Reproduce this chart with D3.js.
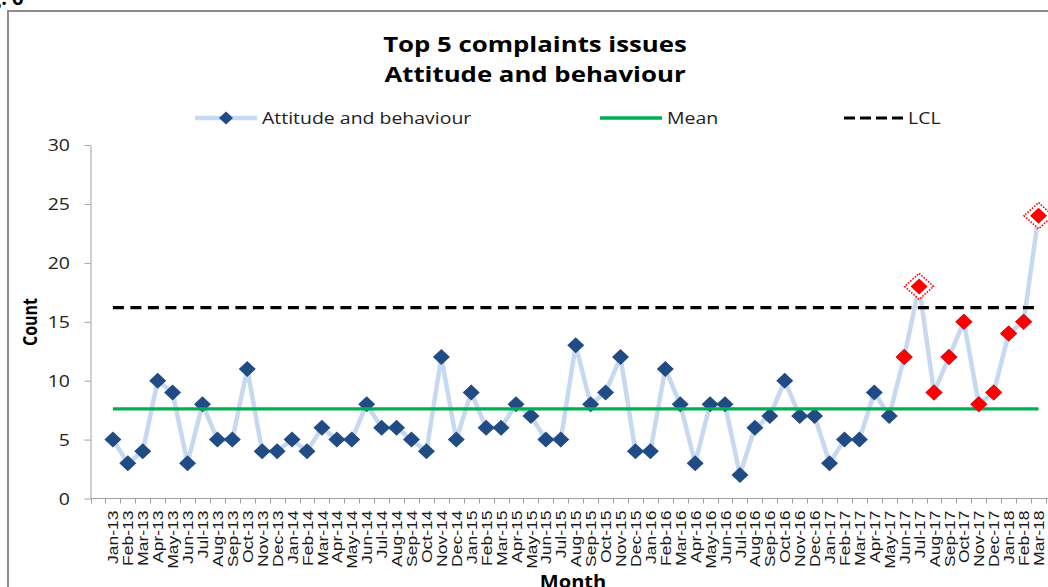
<!DOCTYPE html>
<html>
<head>
<meta charset="utf-8">
<script src="https://cdn.jsdelivr.net/npm/d3@7"></script>
<style>
  html, body { margin: 0; padding: 0; background: #fff; }
  svg { display: block; }
</style>
</head>
<body>
<svg id="chart" width="1048" height="587"></svg>
<script>
// Monthly complaint counts, Jan 2013 – Mar 2018
const months = [
  "Jan-13","Feb-13","Mar-13","Apr-13","May-13","Jun-13","Jul-13","Aug-13","Sep-13","Oct-13","Nov-13","Dec-13",
  "Jan-14","Feb-14","Mar-14","Apr-14","May-14","Jun-14","Jul-14","Aug-14","Sep-14","Oct-14","Nov-14","Dec-14",
  "Jan-15","Feb-15","Mar-15","Apr-15","May-15","Jun-15","Jul-15","Aug-15","Sep-15","Oct-15","Nov-15","Dec-15",
  "Jan-16","Feb-16","Mar-16","Apr-16","May-16","Jun-16","Jul-16","Aug-16","Sep-16","Oct-16","Nov-16","Dec-16",
  "Jan-17","Feb-17","Mar-17","Apr-17","May-17","Jun-17","Jul-17","Aug-17","Sep-17","Oct-17","Nov-17","Dec-17",
  "Jan-18","Feb-18","Mar-18"
];
const complaints = [
  5, 3, 4, 10, 9, 3, 8, 5, 5, 11, 4, 4,
  5, 4, 6, 5, 5, 8, 6, 6, 5, 4, 12, 5,
  9, 6, 6, 8, 7, 5, 5, 13, 8, 9, 12, 4,
  4, 11, 8, 3, 8, 8, 2, 6, 7, 10, 7, 7,
  3, 5, 5, 9, 7, 12, 18, 9, 12, 15, 8, 9,
  14, 15, 24
];
// Months flagged as a run of special-cause variation
const flaggedMonths = ["Jun-17","Jul-17","Aug-17","Sep-17","Oct-17","Nov-17","Dec-17","Jan-18","Feb-18","Mar-18"];
const meanValue = 7.6;
const lclValue = 16.2;
const yTicks = [0, 5, 10, 15, 20, 25, 30];

const seriesName = "Attitude and behaviour";
const titleLines = ["Top 5 complaints issues", "Attitude and behaviour"];

// ---- layout ----
const W = 1048, H = 587;
const plot = { left: 90.5, right: 1046, top: 145, bottom: 498.5 };
const stretch = 1.18;               // horizontal text stretch
const uiFont = "'Open Sans', 'Noto Sans', sans-serif";
const tickFont = "'Liberation Sans', Arial, sans-serif";

const svg = d3.select("#chart");

const slot = (plot.right - plot.left) / (months.length + 1);
const x = d3.scaleBand().domain(months).range([plot.left + slot, plot.right]).padding(0);
const cx = m => x(m) + x.bandwidth() / 2;
const y = d3.scaleLinear().domain([0, 30]).range([plot.bottom, plot.top]);

const data = months.map((m, i) => ({ month: m, value: complaints[i] }));

function diamond(px, py, hw, hh) {
  return `M${px},${py - hh}L${px + hw},${py}L${px},${py + hh}L${px - hw},${py}Z`;
}

// outer frame
svg.append("rect")
  .attr("x", 8).attr("y", 11)
  .attr("width", W + 100).attr("height", H + 100)
  .attr("fill", "none").attr("stroke", "#8c8c8c").attr("stroke-width", 2);

// figure caption (top edge)
svg.append("text")
  .attr("x", 23.5).attr("y", 4.5)
  .attr("text-anchor", "end")
  .style("font-family", uiFont).style("font-weight", "bold").style("font-size", "20px")
  .text("Fig. 6");

// ---- title ----
const titleG = svg.append("g").style("font-family", uiFont).style("font-weight", "bold")
  .style("font-size", "21.5px").attr("fill", "#000");
titleLines.forEach((t, i) => {
  titleG.append("text")
    .attr("transform", `translate(535,${52 + i * 30}) scale(1.2,1)`)
    .attr("text-anchor", "middle")
    .text(t);
});

// ---- y axis ----
const yAxis = d3.axisLeft(y).tickValues(yTicks).tickSize(6).tickSizeOuter(0).tickPadding(0);
const yg = svg.append("g").attr("transform", `translate(${plot.left},0)`).call(yAxis);
yg.select(".domain").attr("stroke", "#a0a0a0");
yg.selectAll(".tick line").attr("stroke", "#a0a0a0");
yg.selectAll(".tick text")
  .attr("x", null).attr("dy", "0.36em")
  .attr("transform", `translate(-20.5,0) scale(${stretch},1)`)
  .attr("fill", "#222")
  .style("font-family", uiFont).style("font-size", "16.5px");

// ---- x axis ----
const xg = svg.append("g");
xg.append("line")
  .attr("x1", plot.left).attr("x2", W + 10)
  .attr("y1", plot.bottom).attr("y2", plot.bottom)
  .attr("stroke", "#a0a0a0");
const boundaries = [plot.left].concat(months.map(m => x(m)), [x(months[months.length - 1]) + x.bandwidth()]);
xg.selectAll("line.tick").data(boundaries).join("line")
  .attr("class", "tick")
  .attr("x1", d => Math.round(d) + 0.5).attr("x2", d => Math.round(d) + 0.5)
  .attr("y1", plot.bottom).attr("y2", plot.bottom + 5)
  .attr("stroke", "#a0a0a0");
xg.selectAll("text").data(months).join("text")
  .attr("transform", d => `translate(${cx(d)},${plot.bottom + 12}) rotate(-90) scale(1.13,1)`)
  .attr("text-anchor", "end").attr("dy", "0.36em")
  .attr("fill", "#1a1a1a")
  .style("font-family", tickFont).style("font-size", "15.5px")
  .text(d => d);

// axis titles
svg.append("text")
  .attr("transform", `translate(30,322) rotate(-90) scale(1,1.2)`)
  .attr("text-anchor", "middle").attr("dy", "0.35em")
  .style("font-family", uiFont).style("font-weight", "bold").style("font-size", "16px")
  .text("Count");
svg.append("text")
  .attr("transform", `translate(573,588) scale(${stretch},1)`)
  .attr("text-anchor", "middle")
  .style("font-family", uiFont).style("font-weight", "bold").style("font-size", "17px")
  .text("Month");

// ---- series ----
const line = d3.line().x(d => cx(d.month)).y(d => y(d.value));
svg.append("path").datum(data)
  .attr("d", line)
  .attr("fill", "none").attr("stroke", "#C6D9F1").attr("stroke-width", 4.5)
  .attr("stroke-linejoin", "round");

svg.append("g").selectAll("path").data(data).join("path")
  .attr("d", d => diamond(cx(d.month), y(d.value), 8.5, 8))
  .attr("fill", "#204B84");

// mean and control limit
const first = months[0], last = months[months.length - 1];
svg.append("line")
  .attr("x1", cx(first)).attr("x2", cx(last))
  .attr("y1", y(meanValue)).attr("y2", y(meanValue))
  .attr("stroke", "#00B050").attr("stroke-width", 3.3);
svg.append("line")
  .attr("x1", cx(first)).attr("x2", cx(last))
  .attr("y1", y(lclValue)).attr("y2", y(lclValue))
  .attr("stroke", "#000").attr("stroke-width", 3.2).attr("stroke-dasharray", "11,6.5");

// flagged run in red, with dotted halo where above the limit
const flagged = data.filter(d => flaggedMonths.includes(d.month));
svg.append("g").selectAll("path").data(flagged.filter(d => d.value > lclValue)).join("path")
  .attr("d", d => diamond(cx(d.month), y(d.value), 14.5, 13))
  .attr("fill", "#fff").attr("stroke", "#FF0000").attr("stroke-width", 1.6)
  .attr("stroke-dasharray", "1.6,1.4");
svg.append("g").selectAll("path").data(flagged).join("path")
  .attr("d", d => diamond(cx(d.month), y(d.value), 8.5, 8))
  .attr("fill", "#FF0000");

// ---- legend ----
const lg = svg.append("g").style("font-family", uiFont).style("font-size", "16.5px").attr("fill", "#222");
const ly = 118;
lg.append("line").attr("x1", 195).attr("x2", 257).attr("y1", ly).attr("y2", ly)
  .attr("stroke", "#C6D9F1").attr("stroke-width", 4.5);
lg.append("path").attr("d", diamond(226, ly, 7, 6.5)).attr("fill", "#204B84");
lg.append("text").attr("transform", `translate(262,${ly}) scale(${stretch},1)`).attr("dy", "0.36em").text(seriesName);

lg.append("line").attr("x1", 600).attr("x2", 662).attr("y1", ly).attr("y2", ly)
  .attr("stroke", "#00B050").attr("stroke-width", 3.3);
lg.append("text").attr("transform", `translate(667,${ly}) scale(${stretch},1)`).attr("dy", "0.36em").text("Mean");

lg.append("line").attr("x1", 844).attr("x2", 903).attr("y1", ly).attr("y2", ly)
  .attr("stroke", "#000").attr("stroke-width", 3.2).attr("stroke-dasharray", "11,5");
lg.append("text").attr("transform", `translate(908,${ly}) scale(${stretch},1)`).attr("dy", "0.36em").text("LCL");
</script>
</body>
</html>
